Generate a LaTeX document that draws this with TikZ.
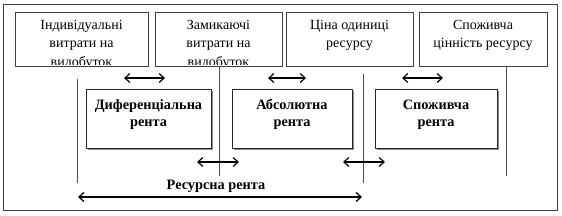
\documentclass[tikz,border=0pt]{standalone}
\usepackage{fontspec}
\setmainfont{Liberation Serif}
\usetikzlibrary{arrows.meta,shadows}
\begin{document}
\begin{tikzpicture}[x=1pt,y=-1pt,
  frame/.style={draw=black!75, line width=1pt},
  topbox/.style={draw=black!75, line width=0.9pt, anchor=north west, inner sep=0pt},
  rentbox/.style={draw=black!85, line width=0.9pt, fill=white, anchor=north west, inner sep=0pt,
    drop shadow={shadow xshift=2pt, shadow yshift=-2pt, fill=black!45, opacity=1}},
  lbl/.style={font=\fontsize{14}{18}\selectfont, anchor=base, inner sep=0pt},
  blbl/.style={font=\fontsize{14.3}{18}\selectfont\bfseries, anchor=base, inner sep=0pt},
  dbl/.style={{Straight Barb[length=5pt,width=9pt]}-{Straight Barb[length=5pt,width=9pt]}, line width=1.2pt, black},
  vline/.style={draw=black!70, line width=0.9pt}]
\useasboundingbox (0,0) rectangle (562,215);
\draw[frame] (3,4) rectangle (557,210);

% top boxes
\node[topbox, minimum width=133pt, minimum height=54pt] (b1) at (15,12) {};
\node[topbox, minimum width=127pt, minimum height=54pt] (b2) at (155,12) {};
\node[topbox, minimum width=127pt, minimum height=54pt] (b3) at (286,12) {};
\node[topbox, minimum width=128pt, minimum height=54pt] (b4) at (419,12) {};

% texts of top boxes, the third lines cut off just above the box bottoms
\begin{scope}
  \clip (b1.north west) rectangle ([yshift=2.5pt]b1.south east);
  \node[lbl] (t1a) at (81.5,29.3) {Індивідуальні};
  \node[lbl] (t1b) at (81.5,47.5) {витрати на};
  \node[lbl] (t1c) at (81.5,66) {видобуток};
\end{scope}
\begin{scope}
  \clip (b2.north west) rectangle ([yshift=2.5pt]b2.south east);
  \node[lbl] (t2a) at (218.5,29.3) {Замикаючі};
  \node[lbl] (t2b) at (218.5,47.5) {витрати на};
  \node[lbl] (t2c) at (218.5,66) {видобуток};
\end{scope}
\node[lbl] (t3a) at (349.5,29.3) {Ціна одиниці};
\node[lbl] (t3b) at (349.5,47.5) {ресурсу};
\node[lbl] (t4a) at (483,29.3) {Споживча};
\node[lbl] (t4b) at (483,47.5) {цінність ресурсу};
\draw[topbox] (b1.north west) rectangle (b1.south east);
\draw[topbox] (b2.north west) rectangle (b2.south east);

% rent boxes
\node[rentbox, minimum width=125pt, minimum height=59pt] (r1) at (86,89) {};
\node[rentbox, minimum width=120pt, minimum height=59pt] (r2) at (232,89) {};
\node[rentbox, minimum width=122pt, minimum height=59pt] (r3) at (375,89) {};
\node[blbl] (r1a) at (148.5,109.5) {Диференціальна};
\node[blbl] (r1b) at (148.5,126) {рента};
\node[blbl] (r2a) at (292,109.5) {Абсолютна};
\node[blbl] (r2b) at (292,126) {рента};
\node[blbl] (r3a) at (436,109.5) {Споживча};
\node[blbl] (r3b) at (436,126) {рента};

% vertical lines
\coordinate (v1t) at (77,79);   \coordinate (v1b) at (77,183);
\coordinate (v2t) at (219,66);  \coordinate (v2b) at (219,176);
\coordinate (v3t) at (363,74);  \coordinate (v3b) at (363,183);
\coordinate (v4t) at (506,66);  \coordinate (v4b) at (506,176);
\draw[vline] (v1t) -- (v1b);
\draw[vline] (v2t) -- (v2b);
\draw[vline] (v3t) -- (v3b);
\draw[vline] (v4t) -- (v4b);

% double arrows
\coordinate (a1l) at (124,78); \coordinate (a1r) at (165,78);
\coordinate (a2l) at (268,78); \coordinate (a2r) at (306,78);
\coordinate (a3l) at (402,78); \coordinate (a3r) at (443,78);
\coordinate (a4l) at (197,162); \coordinate (a4r) at (239,162);
\coordinate (a5l) at (343,162); \coordinate (a5r) at (385,162);
\draw[dbl] (a1l) -- (a1r);
\draw[dbl] (a2l) -- (a2r);
\draw[dbl] (a3l) -- (a3r);
\draw[dbl] (a4l) -- (a4r);
\draw[dbl] (a5l) -- (a5r);

% resource rent
\node[blbl] (rr) at (216,189) {Ресурсна рента};
\coordinate (ll) at (78,197); \coordinate (lr) at (362,197);
\draw[dbl, line width=1.3pt] (ll) -- (lr);
\end{tikzpicture}
\end{document}
